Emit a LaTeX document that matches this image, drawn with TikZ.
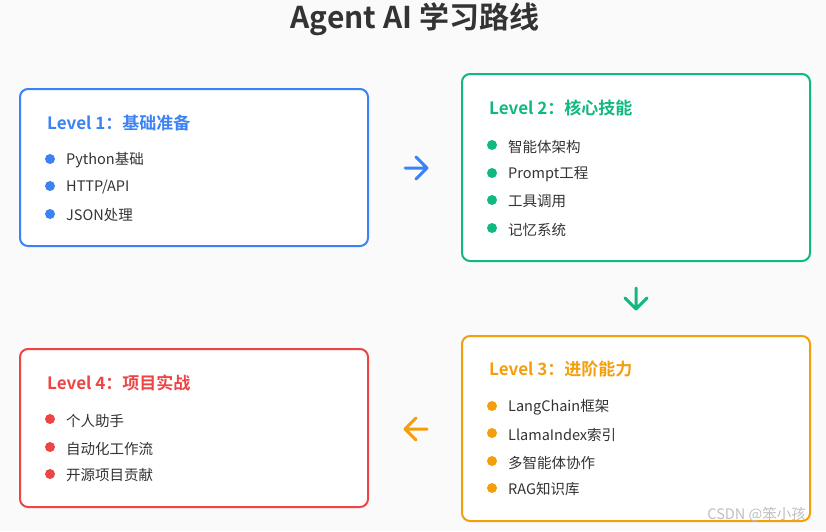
\documentclass[tikz,border=0pt]{standalone}
\usepackage{fontspec}
\setmainfont{Noto Sans CJK SC}
\newfontfamily\cjkbold{Noto Sans CJK SC Bold}
\definecolor{bgc}{HTML}{FAFAFA}
\definecolor{cblue}{HTML}{3B82F6}
\definecolor{cgreen}{HTML}{10B981}
\definecolor{corange}{HTML}{F59E0B}
\definecolor{cred}{HTML}{EF4444}
\definecolor{ctext}{HTML}{333333}
\tikzset{
  card/.style={draw=#1, line width=2pt, fill=white, rounded corners=8pt, minimum width=348pt, inner sep=0pt},
  lvl/.style={anchor=west, text=#1, font=\cjkbold\fontsize{17}{20}\selectfont, inner sep=0pt, yshift=-1pt},
  itemtxt/.style={anchor=west, text=ctext, font=\fontsize{14.5}{18}\selectfont, inner sep=0pt, yshift=-1.5pt},
  dot/.style={circle, fill=#1, minimum size=10pt, inner sep=0pt},
  flow/.style={draw=#1, line width=3pt, line cap=round, line join=round},
}
\begin{document}
\begin{tikzpicture}[x=1pt,y=-1pt]
\fill[bgc] (0,0) rectangle (826,531);
\useasboundingbox (0,0) rectangle (826,531);
\node[text=ctext, font=\cjkbold\fontsize{30}{34}\selectfont, inner sep=0pt] (title) at (415,19) {Agent AI 学习路线};

% Level 1
\node[card=cblue, minimum height=157pt] (c1) at (194,167.5) {};
\node[lvl=cblue] (t1) at (47,122) {Level 1：基础准备};
\node[dot=cblue] (d11) at (50,159) {}; \node[itemtxt] (i11) at (66,159) {Python基础};
\node[dot=cblue] (d12) at (50,186) {}; \node[itemtxt] (i12) at (66,186) {HTTP/API};
\node[dot=cblue] (d13) at (50,214) {}; \node[itemtxt] (i13) at (66,214) {JSON处理};

% Level 2
\node[card=cgreen, minimum height=187pt] (c2) at (636,167.5) {};
\node[lvl=cgreen] (t2) at (489,107) {Level 2：核心技能};
\node[dot=cgreen] (d21) at (492,145) {}; \node[itemtxt] (i21) at (508,145) {智能体架构};
\node[dot=cgreen] (d22) at (492,173) {}; \node[itemtxt] (i22) at (508,173) {Prompt工程};
\node[dot=cgreen] (d23) at (492,200) {}; \node[itemtxt] (i23) at (508,200) {工具调用};
\node[dot=cgreen] (d24) at (492,228) {}; \node[itemtxt] (i24) at (508,228) {记忆系统};

% Level 3
\node[card=corange, minimum height=185pt] (c3) at (636,428.5) {};
\node[lvl=corange] (t3) at (489,368) {Level 3：进阶能力};
\node[dot=corange] (d31) at (492,406) {}; \node[itemtxt] (i31) at (508,406) {LangChain框架};
\node[dot=corange] (d32) at (492,433) {}; \node[itemtxt] (i32) at (508,433) {LlamaIndex索引};
\node[dot=corange] (d33) at (492,461) {}; \node[itemtxt] (i33) at (508,461) {多智能体协作};
\node[dot=corange] (d34) at (492,488) {}; \node[itemtxt] (i34) at (508,488) {RAG知识库};

% Level 4
\node[card=cred, minimum height=158pt] (c4) at (194,428) {};
\node[lvl=cred] (t4) at (47,382) {Level 4：项目实战};
\node[dot=cred] (d41) at (50,419) {}; \node[itemtxt] (i41) at (66,419) {个人助手};
\node[dot=cred] (d42) at (50,447) {}; \node[itemtxt] (i42) at (66,447) {自动化工作流};
\node[dot=cred] (d43) at (50,474) {}; \node[itemtxt] (i43) at (66,474) {开源项目贡献};

% arrows
\coordinate (a1s) at (405,168); \coordinate (a1e) at (427,168);
\draw[flow=cblue] (a1s) -- (a1e) (416,157) -- (a1e) -- (416,179);
\coordinate (a2s) at (636,288); \coordinate (a2e) at (636,309);
\draw[flow=cgreen] (a2s) -- (a2e) (625,298) -- (a2e) -- (647,298);
\coordinate (a3s) at (427,429); \coordinate (a3e) at (405,429);
\draw[flow=corange] (a3s) -- (a3e) (416,418) -- (a3e) -- (416,440);

\node[anchor=east, text=black!25, font=\fontsize{14.5}{17}\selectfont, inner sep=0pt] (wm) at (806,515) {CSDN @笨小孩};
\end{tikzpicture}
\end{document}
